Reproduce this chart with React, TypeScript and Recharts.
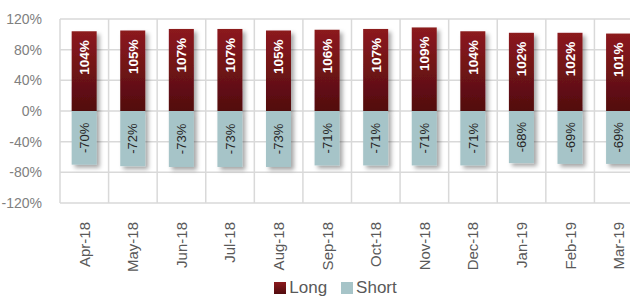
import { BarChart, Bar, XAxis, YAxis, CartesianGrid, Legend } from 'recharts';

const months = ['Apr-18', 'May-18', 'Jun-18', 'Jul-18', 'Aug-18', 'Sep-18', 'Oct-18', 'Nov-18', 'Dec-18', 'Jan-19', 'Feb-19', 'Mar-19'];
const longValues = [104, 105, 107, 107, 105, 106, 107, 109, 104, 102, 102, 101];
const shortValues = [-70, -72, -73, -73, -73, -71, -71, -71, -71, -68, -69, -69];
const yTicks = [-120, -80, -40, 0, 40, 80, 120];

const data = months.map((m, i) => ({ month: m, long: longValues[i], short: shortValues[i] }));

const FONT = '"Liberation Sans", Arial, sans-serif';

// bar with drop shadow + vertical value label drawn in the same group
function LongBar(props: any) {
  const { x, y, width, height, fill, payload } = props;
  const top = height < 0 ? y + height : y;
  const h = Math.abs(height);
  const cx = x + width / 2;
  const ty = top + 9;
  return (
    <g>
      <rect x={x} y={top} width={width} height={h} fill={fill} filter="url(#barShadow)" />
      <g transform={`translate(${cx} ${ty}) rotate(-90)`}>
        <text x={0} y={0} textAnchor="end" dy="0.36em" fill="#ffffff" fontSize={13.5} fontWeight="bold" fontFamily={FONT}>
          {payload.long}%
        </text>
      </g>
    </g>
  );
}

function ShortBar(props: any) {
  const { x, y, width, height, fill, payload } = props;
  const top = height < 0 ? y + height : y;
  const h = Math.abs(height);
  const cx = x + width / 2;
  const cy = top + h / 2;
  return (
    <g>
      <rect x={x} y={top} width={width} height={h} fill={fill} filter="url(#barShadow)" />
      <g transform={`translate(${cx} ${cy}) rotate(-90)`}>
        <text x={0} y={0} textAnchor="middle" dy="0.36em" fill="#262626" fontSize={13} fontFamily={FONT}>
          {payload.short}%
        </text>
      </g>
    </g>
  );
}

function MonthTick(props: any) {
  const { x, y, payload } = props;
  const ty = y + 11;
  return (
    <g transform={`translate(${x} ${ty}) rotate(-90)`}>
      <text x={0} y={0} textAnchor="end" dy="0.36em" fill="#595959" fontSize={15} fontFamily={FONT}>
        {payload.value}
      </text>
    </g>
  );
}

function LegendContent() {
  const items = [
    { name: 'Long', top: '#8c1a1e', bottom: '#520c0f' },
    { name: 'Short', top: '#a6c4c8', bottom: '#a6c4c8' },
  ];
  return (
    <div style={{ display: 'flex', justifyContent: 'center', paddingLeft: 42, paddingTop: 5, fontFamily: FONT, fontSize: 17, color: '#595959' }}>
      {items.map((it) => (
        <div key={it.name} style={{ display: 'flex', alignItems: 'center', marginRight: 14 }}>
          <svg width={12} height={12} style={{ marginRight: 3 }}>
            <defs>
              <linearGradient id={`lg-${it.name}`} x1="0" y1="0" x2="0" y2="1">
                <stop offset="0%" stopColor={it.top} />
                <stop offset="100%" stopColor={it.bottom} />
              </linearGradient>
            </defs>
            <rect width={12} height={12} fill={`url(#lg-${it.name})`} />
          </svg>
          <span>{it.name}</span>
        </div>
      ))}
    </div>
  );
}

export default function App() {
  return (
    <div style={{ position: 'absolute', left: 0, top: 0, width: 630, height: 299, overflow: 'hidden', background: '#fff' }}>
      <BarChart width={660} height={310} data={data} stackOffset="sign" barCategoryGap="24%"
        margin={{ top: 19, right: 17, left: 0, bottom: 0 }}>
        <defs>
          <linearGradient id="longFill" x1="0" y1="0" x2="0" y2="1">
            <stop offset="0%" stopColor="#8c1a1e" />
            <stop offset="100%" stopColor="#520c0f" />
          </linearGradient>
          <filter id="barShadow" x="-30%" y="-30%" width="160%" height="160%">
            <feDropShadow dx={3} dy={3} stdDeviation={2} floodColor="#000" floodOpacity={0.35} />
          </filter>
        </defs>
        <CartesianGrid stroke="#d9d9d9" strokeWidth={1.5}
          verticalCoordinatesGenerator={({ offset }: any) =>
            Array.from({ length: months.length + 1 }, (_, i) => offset.left + (i * offset.width) / months.length)} />
        <XAxis dataKey="month" axisLine={false} tickLine={false} interval={0} height={70} tick={<MonthTick />} />
        <YAxis width={60} domain={[-120, 120]} ticks={yTicks} axisLine={false} tickLine={false} tickMargin={12}
          tickFormatter={(v) => `${v}%`} tick={{ fill: '#808080', fontSize: 14, fontFamily: FONT }} />
        <Legend verticalAlign="bottom" height={37} content={<LegendContent />} />
        <Bar dataKey="long" name="Long" stackId="a" fill="url(#longFill)" shape={<LongBar />} isAnimationActive={false} />
        <Bar dataKey="short" name="Short" stackId="a" fill="#a6c4c8" shape={<ShortBar />} isAnimationActive={false} />
      </BarChart>
    </div>
  );
}
